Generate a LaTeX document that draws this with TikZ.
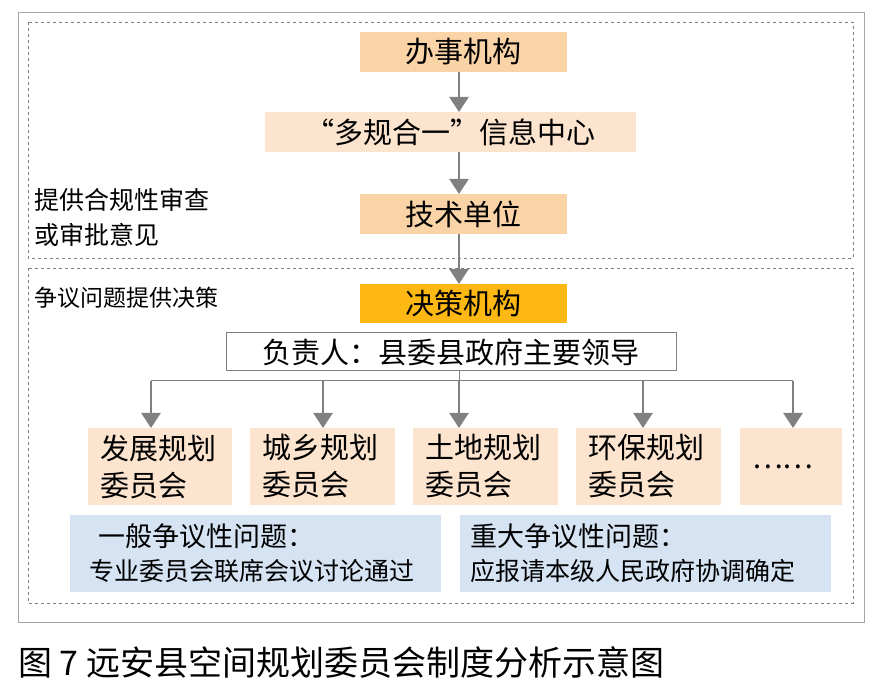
\documentclass[tikz,border=0pt]{standalone}
\usepackage{fontspec}
\setmainfont{Noto Sans CJK SC}
\usetikzlibrary{arrows.meta}
\definecolor{boxorange}{HTML}{FAD4A6}
\definecolor{boxpale}{HTML}{FCE4CF}
\definecolor{boxgold}{HTML}{FDB813}
\definecolor{boxblue}{HTML}{D5E3F3}
\definecolor{arrowgray}{HTML}{808080}
\begin{document}
\begin{tikzpicture}[x = 1pt, y = -1pt,
    unit/.style = {inner sep=0pt, font=\fontsize{29}{37}\selectfont},
    flow/.style = {draw=arrowgray, line width=2.4pt, -{Triangle[length=15pt, width=19pt]}},
    note/.style = {anchor=west, align=left, inner sep=0pt, font=\fontsize{24}{35}\selectfont}]
    \useasboundingbox (0,0) rectangle (889,692);
    \draw[gray!70, line width=0.8pt] (18,12) rectangle (864,622);
    \draw[gray, dashed] (28,22) rectangle (853,258);
    \draw[gray, dashed] (28,268) rectangle (853,603);
    % top chain
    \fill[boxorange] (360,32) rectangle (567,72);
    \node[unit] (office) at (463.5,52) {办事机构};
    \fill[boxpale] (265,112) rectangle (636,152);
    \node[unit] (info) at (450.5,132) {“多规合一”信息中心};
    \fill[boxorange] (360,194) rectangle (567,234);
    \node[unit] (tech) at (463.5,214) {技术单位};
    \fill[boxgold] (360,284) rectangle (567,323);
    \node[unit] (decide) at (463.5,303.5) {决策机构};
    \draw[arrowgray, line width=1pt, fill=white] (226,333) rectangle (676,371);
    \node[unit] (head) at (451,352) {负责人：县委县政府主要领导};
    \coordinate (c1) at (459,72);
    \coordinate (c2) at (459,112);
    \coordinate (c3) at (459,152);
    \coordinate (c4) at (459,194);
    \coordinate (c5) at (459,234);
    \coordinate (c6) at (459,284);
    \draw[flow] (c1) -- (c2);
    \draw[flow] (c3) -- (c4);
    \draw[flow] (c5) -- (c6);
    % committees
    \draw[arrowgray, line width=1pt] (459,371) -- (459,381) (151,381) -- (793,381);
    \foreach \xl/\xr/\name/\txt in {88/232/dev/发展规划\\委员会, 250/395/city/城乡规划\\委员会,
        413/558/land/土地规划\\委员会, 576/721/env/环保规划\\委员会, 740/842/more/……}{
      \fill[boxpale] (\xl,428) rectangle (\xr,505);
      \node[unit, align=left, anchor=west] (\name) at (\xl+12,466.5) {\txt};
    }
    \foreach \x in {151,323,459,643,793}
      \draw[flow] (\x,381) -- (\x,428);
    % issues
    \fill[boxblue] (70,515) rectangle (441,592);
    \node[note, font=\fontsize{27}{32}\selectfont] (gen) at (98,536) {一般争议性问题：};
    \node[note, font=\fontsize{25}{30}\selectfont] (gen2) at (89,571) {专业委员会联席会议讨论通过};
    \fill[boxblue] (460,515) rectangle (831,592);
    \node[note, font=\fontsize{27}{32}\selectfont] (maj) at (470,536) {重大争议性问题：};
    \node[note, font=\fontsize{25}{30}\selectfont] (maj2) at (470,571) {应报请本级人民政府协调确定};
    % side notes
    \node[note, font=\fontsize{25}{35}\selectfont] (review) at (34,217) {提供合规性审查\\或审批意见};
    \node[note, font=\fontsize{23}{30}\selectfont] (dispute) at (34,298) {争议问题提供决策};
    \node[anchor=west, inner sep=0pt, font=\fontsize{34}{40}\selectfont] (cap) at (18,662) {图 7\ 远安县空间规划委员会制度分析示意图};
\end{tikzpicture}
\end{document}
